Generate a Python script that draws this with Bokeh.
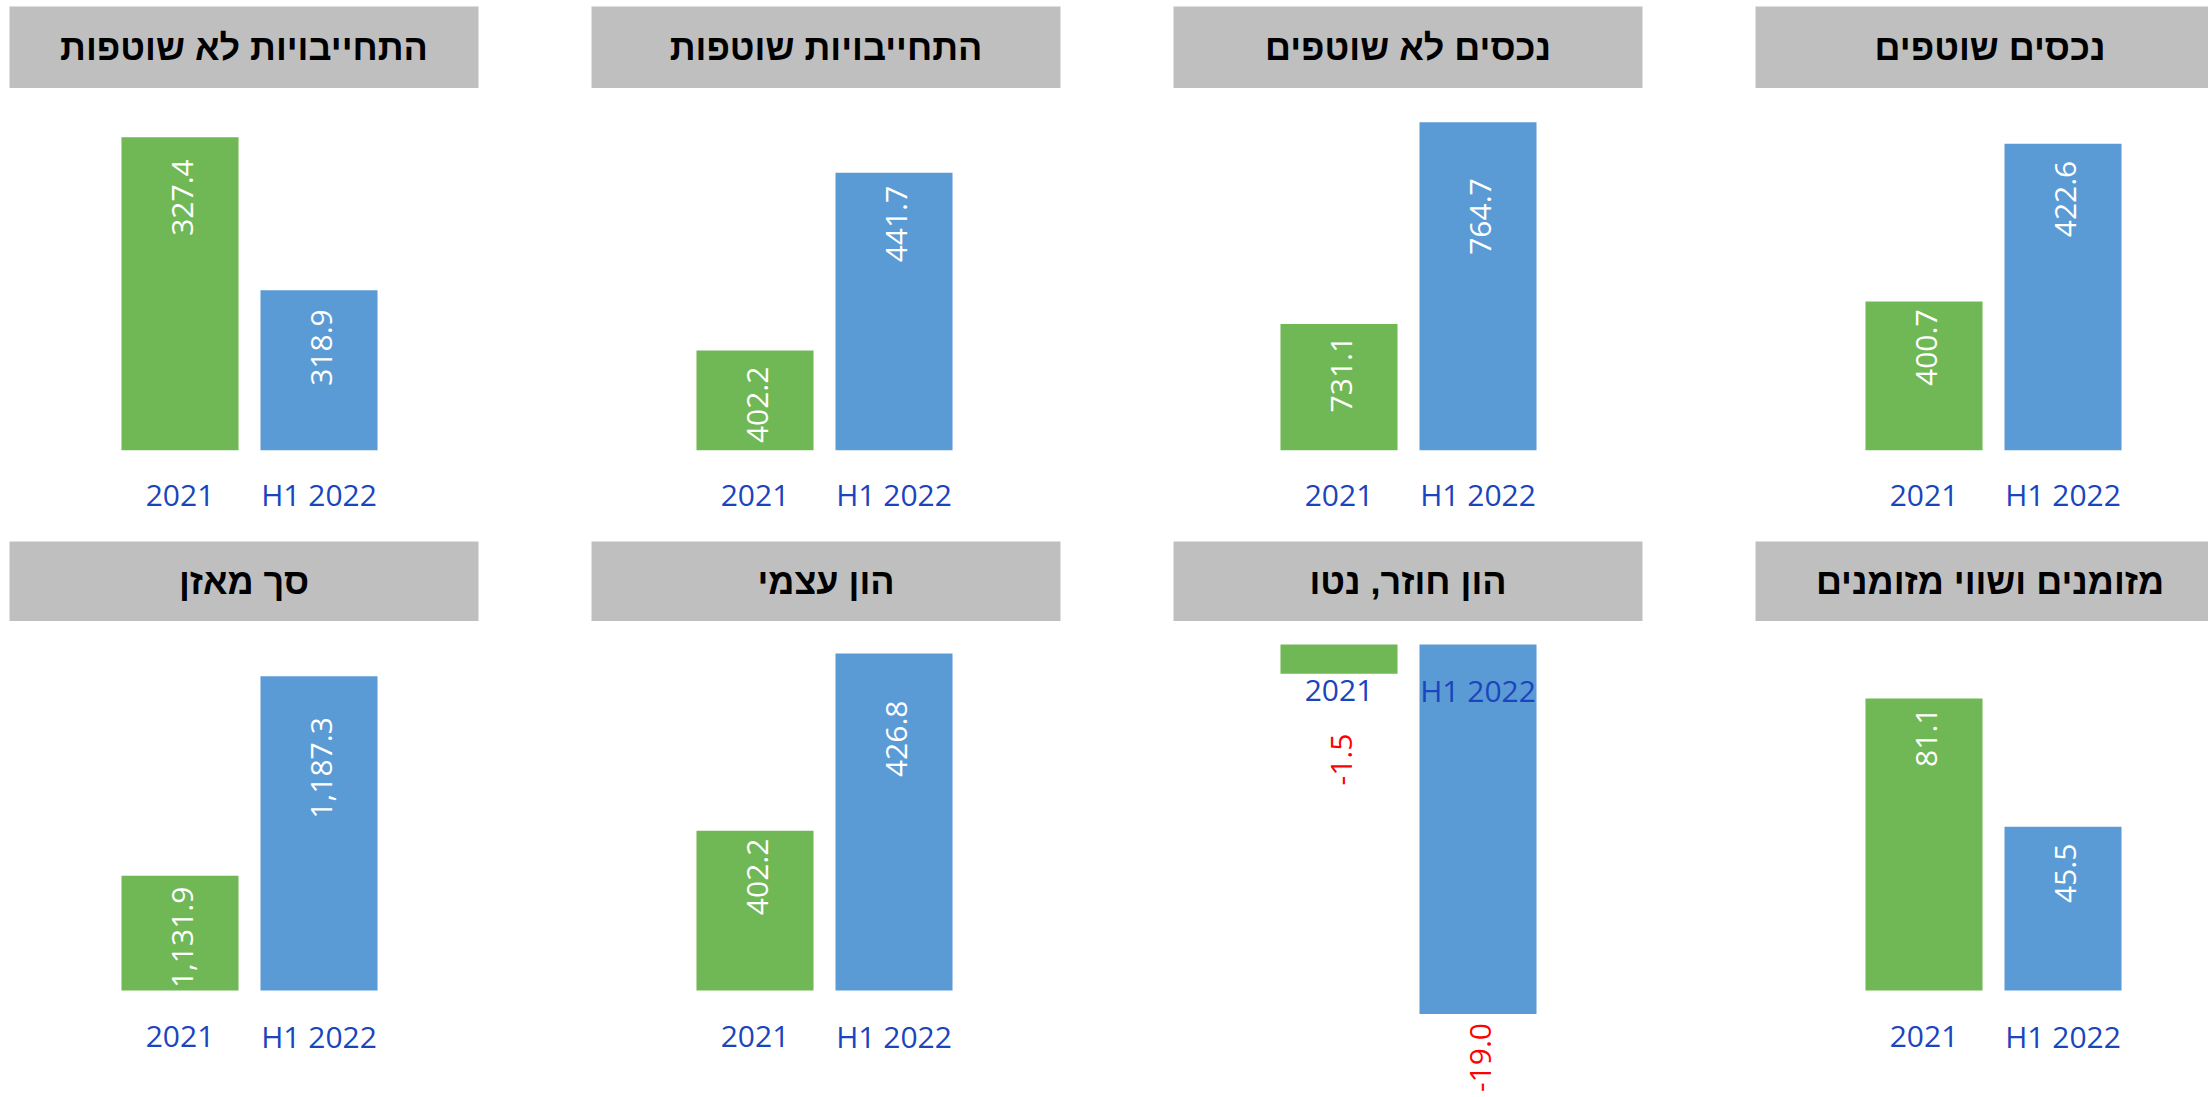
import math
from bokeh.plotting import figure
from bokeh.models import FactorRange, Range1d, ColumnDataSource, Label
from bokeh.layouts import column, row
from bokeh.core.properties import value
from bokeh.embed import file_html
from bokeh.resources import INLINE

# ---------------- data ----------------
categories = ["2021", "H1 2022"]

non_current_liabilities = [327.4, 318.9]   # התחייבויות לא שוטפות
current_liabilities = [402.2, 441.7]       # התחייבויות שוטפות
non_current_assets = [731.1, 764.7]        # נכסים לא שוטפים
current_assets = [400.7, 422.6]            # נכסים שוטפים
total_balance = [1131.9, 1187.3]           # סך מאזן
equity = [402.2, 426.8]                    # הון עצמי
working_capital = [-1.5, -19.0]            # הון חוזר, נטו
cash = [81.1, 45.5]                        # מזומנים ושווי מזומנים

titles_top = ["התחייבויות לא שוטפות", "התחייבויות שוטפות", "נכסים לא שוטפים", "נכסים שוטפים"]
titles_bottom = ["סך מאזן", "הון עצמי", "הון חוזר, נטו", "מזומנים ושווי מזומנים"]
values_top = [non_current_liabilities, current_liabilities, non_current_assets, current_assets]
values_bottom = [total_balance, equity, working_capital, cash]

# value-axis ranges of the source charts
ranges_top = [(310, 330), (380, 460), (710, 770), (380, 430)]
ranges_bottom = [(1100, 1200), (380, 430), (-20, 0), (0, 100)]

# ---------------- style ----------------
GREEN = "#70B855"
BLUE = "#5B9BD5"
HEADER_BG = "#BFBFBF"
CAT_COLOR = "#1A45BD"
NEG_COLOR = "#FF0000"
bar_colors = [GREEN, BLUE]

PAGE_W = 2208
COL_W = 582
LAST_W = PAGE_W - 3 * COL_W
HEADER_LEFT = 9
HEADER_W = 469
FRAME_W = 278
BAR_W = 0.842
NUM_FONT = "Open Sans"
NUM_SIZE = "30px"
CAT_DROP = 46          # px from axis line to centre of category label

# per-panel x position of frame (from column start) and data-label gaps (px)
frame_left_top = [110, 103, 105, 108]
frame_left_bottom = [110, 103, 105, 108]
gaps_top = [[22, 19], [16, 13], [12, 56], [8, 17]]
gaps_bottom = [[11, 41], [8, 47], [60, 9], [9, 17]]

# bottom-row plot areas inside a common frame: (offset from frame top, height) in px
BOTTOM_FRAME_H = 467
plot_area_bottom = [(0, 360), (0, 360), (14, 389), (0, 360)]


def header(title, c, height, top_border):
    w = COL_W if c < 3 else LAST_W
    fw = min(HEADER_W, w - HEADER_LEFT)
    p = figure(width=w, height=height, x_range=Range1d(0, fw / HEADER_W), y_range=Range1d(0, 1),
               output_backend="svg", toolbar_location=None,
               x_axis_location=None, y_axis_location=None,
               min_border_left=HEADER_LEFT, min_border_right=w - HEADER_LEFT - fw,
               min_border_top=top_border, min_border_bottom=0)
    p.background_fill_color = HEADER_BG
    p.border_fill_color = "white"
    p.outline_line_color = None
    p.grid.visible = False
    p.text(x=[0.5], y=[0.5], text=[title], text_align="center", text_baseline="middle",
           text_font=value("Liberation Sans"), text_font_style="bold",
           text_font_size="36px", text_color="black")
    return p


def base_fig(c, left, height, top_border, bottom_border, yr, axis):
    w = COL_W if c < 3 else LAST_W
    p = figure(width=w, height=height, x_range=FactorRange(*categories), y_range=Range1d(*yr),
               output_backend="svg", toolbar_location=None, y_axis_location=None,
               x_axis_location="below" if axis else None,
               min_border_left=left, min_border_right=w - left - FRAME_W,
               min_border_top=top_border, min_border_bottom=bottom_border)
    p.outline_line_color = None
    p.grid.visible = False
    p.background_fill_color = "white"
    p.border_fill_color = "white"
    return p


def draw_bars(p, vals, base, gaps):
    src = ColumnDataSource(dict(x=categories, top=vals, bottom=[base] * len(vals), color=bar_colors))
    p.vbar(x="x", top="top", bottom="bottom", width=BAR_W, fill_color="color",
           line_color=None, source=src)
    # data labels; x is the synthetic centre of each factor (0.5, 1.5, ...)
    for i, (v, g) in enumerate(zip(vals, gaps)):
        p.add_layout(Label(x=i + 0.5, y=v, text="{:,.1f}".format(v), angle=math.pi / 2,
                           text_align="right", text_baseline="middle", x_offset=2, y_offset=-g,
                           text_font=NUM_FONT, text_font_size=NUM_SIZE,
                           text_color="white" if v >= 0 else NEG_COLOR))


def top_chart(vals, yr, c, left, gaps):
    ymin, ymax = yr
    p = base_fig(c, left, 453, 2, 91, yr, True)
    draw_bars(p, vals, ymin, gaps)
    ax = p.xaxis[0]
    ax.axis_line_color = None
    ax.major_tick_line_color = None
    ax.major_tick_in = 0
    ax.major_tick_out = 0
    ax.major_label_standoff = 23
    ax.major_label_text_font = NUM_FONT
    ax.major_label_text_font_size = NUM_SIZE
    ax.major_label_text_color = CAT_COLOR
    return p


def bottom_chart(vals, yr, c, left, gaps, area):
    ymin, ymax = yr
    off, h = area
    s = (ymax - ymin) / h                       # data units per pixel
    full = (ymin - (BOTTOM_FRAME_H - off - h) * s, ymax + off * s)
    base = min(max(0, ymin), ymax)              # where the category axis crosses
    p = base_fig(c, left, 476, 9, 0, full, False)
    draw_bars(p, vals, base, gaps)
    for i, cat in enumerate(categories):
        p.add_layout(Label(x=i + 0.5, y=base, text=cat, text_align="center",
                           text_baseline="middle", y_offset=-CAT_DROP,
                           text_font=NUM_FONT, text_font_size=NUM_SIZE, text_color=CAT_COLOR))
    return p


top_headers = [header(t, c, 88, 6) for c, t in enumerate(titles_top)]
bottom_headers = [header(t, c, 80, 0) for c, t in enumerate(titles_bottom)]

top_charts = [top_chart(values_top[c], ranges_top[c], c, frame_left_top[c], gaps_top[c])
              for c in range(4)]
bottom_charts = [bottom_chart(values_bottom[c], ranges_bottom[c], c, frame_left_bottom[c],
                              gaps_bottom[c], plot_area_bottom[c]) for c in range(4)]

layout = column(row(*top_headers), row(*top_charts), row(*bottom_headers), row(*bottom_charts))

open("out.html", "w").write(file_html(layout, INLINE))
